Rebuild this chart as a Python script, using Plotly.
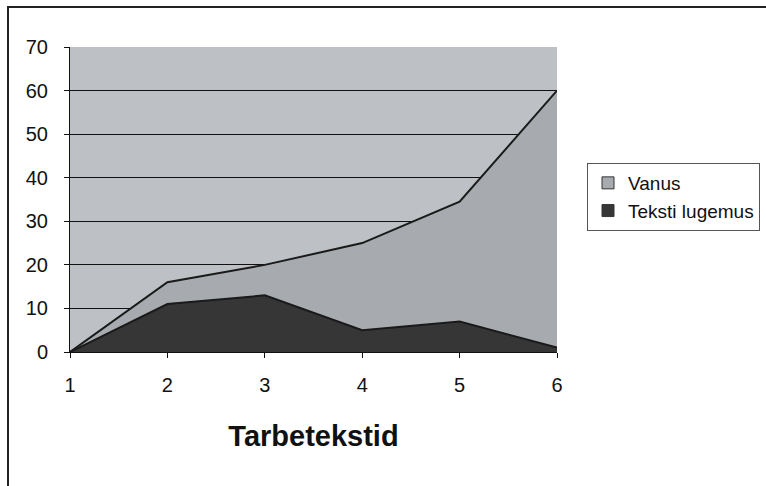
import plotly.graph_objects as go

# data
categories = [1, 2, 3, 4, 5, 6]
vanus = [0, 16, 20, 25, 34.5, 60]
teksti_lugemus = [0, 11, 13, 5, 7, 1]
y_ticks = [0, 10, 20, 30, 40, 50, 60, 70]

W, H = 766, 486
ML, MR, MT, MB = 70, 209, 47, 134
PW, PH = W - ML - MR, H - MT - MB

VANUS_FILL = '#a7aaae'
TEKST_FILL = '#363636'


def px_x(p):
    return (p - ML) / PW


def px_y(p):
    return (H - MB - p) / PH


fig = go.Figure()

fig.add_trace(go.Scatter(
    x=categories, y=vanus, name='Vanus',
    mode='lines', fill='tozeroy', fillcolor=VANUS_FILL,
    line=dict(color='#1a1a1a', width=2), showlegend=False,
))
fig.add_trace(go.Scatter(
    x=categories, y=teksti_lugemus, name='Teksti lugemus',
    mode='lines', fill='tozeroy', fillcolor=TEKST_FILL,
    line=dict(color='#1a1a1a', width=2), showlegend=False,
))

# square legend swatches like the original
for name, color in [('Vanus', VANUS_FILL), ('Teksti lugemus', TEKST_FILL)]:
    fig.add_trace(go.Scatter(
        x=[None], y=[None], name=name, mode='markers',
        marker=dict(symbol='square', size=12, color=color,
                    line=dict(color='#333333', width=1)),
    ))

# outer chart frame
fig.add_shape(
    type='rect', xref='paper', yref='paper',
    x0=px_x(8), x1=px_x(775), y0=px_y(7), y1=px_y(495),
    line=dict(color='#222222', width=2), layer='below',
)

fig.update_layout(
    width=W, height=H,
    margin=dict(l=ML, r=MR, t=MT, b=MB, autoexpand=False),
    paper_bgcolor='white',
    plot_bgcolor='#bdc0c4',
    font=dict(family='Liberation Sans, Arial, sans-serif', size=20, color='#111111'),
    showlegend=True,
    legend=dict(
        x=px_x(587), y=px_y(163), xanchor='left', yanchor='top',
        bgcolor='white', bordercolor='#555555', borderwidth=1,
        font=dict(size=19), traceorder='normal',
        itemwidth=30, tracegroupgap=0,
    ),
    xaxis=dict(
        range=[1, 6], tickvals=categories,
        showgrid=False, zeroline=False,
        showline=True, linecolor='#111111', linewidth=1,
        ticks='outside', ticklen=5, tickcolor='#111111',
        ticklabelstandoff=10,
        title=dict(text='<b>Tarbetekstid</b>', font=dict(size=29), standoff=30),
    ),
    yaxis=dict(
        range=[0, 70], tickvals=y_ticks,
        showgrid=True, gridcolor='#111111', gridwidth=1,
        zeroline=False,
        showline=True, linecolor='#111111', linewidth=1,
        ticks='outside', ticklen=5, tickcolor='#111111',
        ticklabelstandoff=12,
    ),
)

fig.write_html("out.html", config={'displayModeBar': False},
               post_script="document.body.style.margin='0';")
